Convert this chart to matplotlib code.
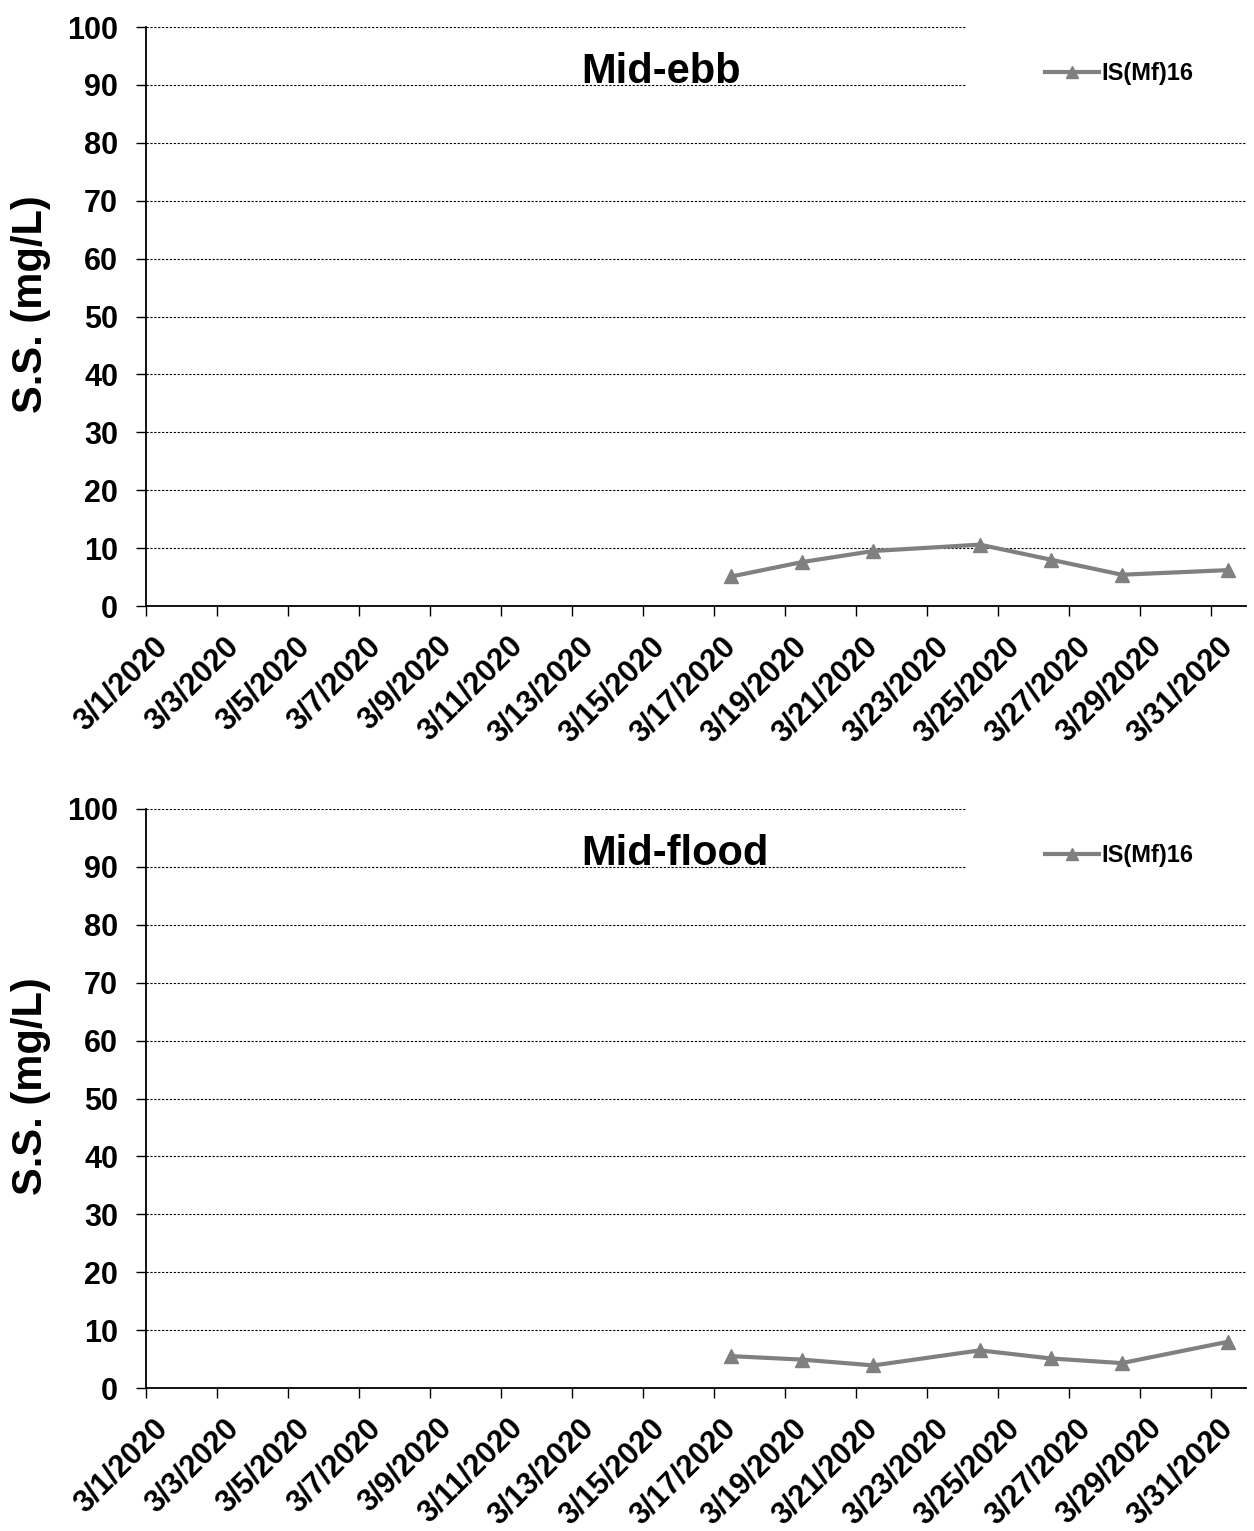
import numpy as np
import pandas as pd
import matplotlib
matplotlib.use('Agg')
import matplotlib.pyplot as plt
import matplotlib.transforms as mtransforms
from matplotlib.patches import Rectangle

# DATA ----------------------------------------------------------------------

fechas = pd.to_datetime(['2020-03-17 12:00', '2020-03-19 12:00', '2020-03-21 12:00',
                         '2020-03-24 12:00', '2020-03-26 12:00', '2020-03-28 12:00',
                         '2020-03-31 12:00'])
ebb = [5.1, 7.6, 9.5, 10.6, 8.0, 5.4, 6.2]
flood = [5.5, 4.9, 3.9, 6.5, 5.1, 4.3, 8.0]
serie = 'IS(Mf)16'
titulos = ['Mid-ebb', 'Mid-flood']
y_ticks = list(range(0, 101, 10))
x_ticks = pd.date_range('2020-03-01', '2020-03-31', freq = '2D')
x_labels = [f'3/{d.day}/2020' for d in x_ticks]

# FIGURE --------------------------------------------------------------------

plt.rcParams['font.family'] = ['Liberation Sans', 'DejaVu Sans']
plt.rcParams['font.weight'] = 'bold'

fig = plt.figure(figsize = (12.54, 15.31), dpi = 100)
W, H = 1254, 1531
cajas = [(146, 27, 1246, 606), (146, 809, 1246, 1388)]
desplaza = mtransforms.ScaledTranslation(7 / 100, 0, fig.dpi_scale_trans)

for (x0, y0, x1, y1), titulo, valores in zip(cajas, titulos, [ebb, flood]):
    ax = fig.add_axes([x0 / W, 1 - y1 / H, (x1 - x0) / W, (y1 - y0) / H])
    ax.set_axisbelow(True)
    ax.plot(fechas, valores, color = '#808080', linewidth = 3, marker = '^',
            markersize = 10, label = serie, zorder = 3)
    ax.set_xlim(pd.Timestamp('2020-03-01'), pd.Timestamp('2020-04-01'))
    ax.set_ylim(0, 100)
    ax.set_yticks(y_ticks)
    ax.set_xticks(x_ticks)
    ax.set_xticklabels(x_labels)
    ax.grid(True, axis = 'y', linestyle = (0, (2, 1.5)), color = 'black', linewidth = 0.8)
    for s in ['top', 'right']:
        ax.spines[s].set_visible(False)
    for s in ['left', 'bottom']:
        ax.spines[s].set_linewidth(1.3)
    ax.tick_params(axis = 'both', direction = 'out', length = 7, width = 1)
    ax.tick_params(axis = 'y', labelsize = 22, pad = 13)
    ax.tick_params(axis = 'x', labelsize = 22, pad = 11)
    for lab in ax.get_xticklabels():
        lab.set_rotation(45)
        lab.set_ha('right')
        lab.set_va('top')
        lab.set_rotation_mode('anchor')
        lab.set_transform(lab.get_transform() + desplaza)
    ax.set_ylabel('S.S. (mg/L)', fontsize = 30, fontweight = 'bold')
    ax.yaxis.set_label_coords(-0.086, 0.522)

    # white box behind the legend hides the grid lines
    ax.add_patch(Rectangle((0.745, 0.84), 0.26, 0.17, transform = ax.transAxes,
                           facecolor = 'white', edgecolor = 'none', zorder = 1,
                           clip_on = False))
    ax.text(0.3955, 0.903, titulo, transform = ax.transAxes, fontsize = 30,
            fontweight = 'bold', ha = 'left', va = 'baseline', zorder = 4)
    ax.legend(loc = 'center left', bbox_to_anchor = (0.817, 0.919), frameon = False,
              fontsize = 17, handlelength = 2.3, handletextpad = 0.1,
              borderpad = 0, borderaxespad = 0, markerscale = 0.8)

fig.savefig('out.png', dpi = 100)
